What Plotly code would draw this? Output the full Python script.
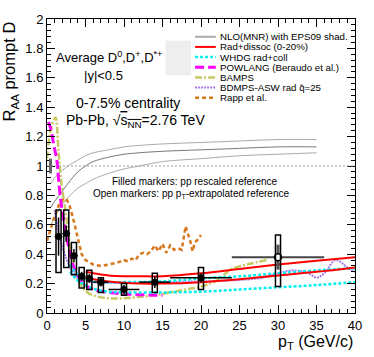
import plotly.graph_objects as go

# --- datos ---
pt = [1.5, 2.5, 3.5, 4.5, 5.5, 7, 10, 14, 20]
pt_half = [0.5, 0.5, 0.5, 0.5, 0.5, 1, 2, 2, 4]
raa = [0.52, 0.54, 0.39, 0.25, 0.235, 0.21, 0.16, 0.21, 0.24]
raa_stat = [0.13, 0.055, 0.045, 0.03, 0.03, 0.03, 0.03, 0.04, 0.03]
syst_lo = [0.275, 0.31, 0.26, 0.17, 0.16, 0.14, 0.12, 0.14, 0.16]
syst_hi = [0.70, 0.70, 0.48, 0.31, 0.29, 0.24, 0.20, 0.27, 0.31]

pt_open = [30]
pt_open_half = [6]
raa_open = [0.38]
raa_open_stat = [0.085]
syst_open_lo = [0.18]
syst_open_hi = [0.53]

nlo_x = [0.5, 1, 2, 3, 4, 5, 6, 8, 10, 12, 15, 20, 25, 30, 35]
nlo_top = [0.88, 0.92, 0.97, 1.01, 1.04, 1.07, 1.09, 1.11, 1.13, 1.14, 1.15, 1.16, 1.17, 1.18, 1.18]
nlo_mid = [0.72, 0.76, 0.83, 0.90, 0.96, 1.00, 1.03, 1.06, 1.08, 1.09, 1.10, 1.11, 1.12, 1.13, 1.13]
nlo_low = [0.60, 0.65, 0.74, 0.80, 0.85, 0.88, 0.91, 0.95, 0.98, 1.00, 1.03, 1.05, 1.07, 1.08, 1.09]

rad_x = [5, 6, 8, 10, 12, 15, 20, 25, 30, 35, 40]
rad_hi = [0.28, 0.27, 0.255, 0.25, 0.25, 0.25, 0.27, 0.30, 0.33, 0.355, 0.38]
rad_lo = [0.24, 0.23, 0.215, 0.205, 0.20, 0.20, 0.21, 0.23, 0.255, 0.28, 0.31]

whdg_x = [3, 4, 5, 6, 8, 10, 15, 20, 25, 30, 35, 40]
whdg_hi = [0.33, 0.26, 0.23, 0.215, 0.21, 0.21, 0.215, 0.235, 0.25, 0.27, 0.29, 0.305]
whdg_lo = [0.28, 0.22, 0.19, 0.165, 0.145, 0.14, 0.14, 0.145, 0.16, 0.175, 0.19, 0.21]

powlang_x = [0.2, 0.5, 0.9, 1.3, 1.5, 1.8, 2.2, 2.6, 3, 3.5, 4, 5, 6, 8, 10, 12, 15]
powlang_y = [1.30, 1.25, 1.14, 1.03, 0.91, 0.76, 0.62, 0.50, 0.40, 0.31, 0.25, 0.19, 0.16, 0.14, 0.13, 0.125, 0.12]

bamps_x = [0, 0.5, 1.1, 1.5, 1.9, 2.4, 3, 3.5, 4, 5, 6, 8, 10, 12, 14, 16, 18, 20, 22, 24, 26, 28.5]
bamps_y = [1.05, 1.25, 1.33, 1.09, 0.87, 0.70, 0.45, 0.32, 0.23, 0.15, 0.12, 0.10, 0.10, 0.11, 0.12, 0.14, 0.16, 0.18, 0.22, 0.30, 0.33, 0.36]

bdmps_x = [1, 1.5, 2, 2.5, 3, 3.5, 4, 5, 6, 8, 10, 15, 20, 25, 28, 30, 32, 34, 35, 36, 37.5, 39, 40]
bdmps_y = [0.70, 0.55, 0.45, 0.37, 0.31, 0.27, 0.24, 0.22, 0.21, 0.205, 0.205, 0.21, 0.215, 0.225, 0.24, 0.27, 0.29, 0.27, 0.24, 0.27, 0.36, 0.31, 0.28]

rapp_x = [0, 0.5, 1, 1.5, 2, 2.5, 3, 3.5, 4, 4.5, 5, 6, 7, 8, 9, 10, 10.5, 11, 11.5, 12,
          12.5, 13, 13.5, 14, 14.5, 15, 15.5, 16, 16.5, 17, 17.5, 18, 18.3, 18.6, 18.9, 19.2, 19.6, 20]
rapp_y = [0.49, 0.58, 0.66, 0.73, 0.77, 0.78, 0.72, 0.62, 0.50, 0.40, 0.36, 0.33, 0.32, 0.33, 0.34, 0.36, 0.35, 0.37, 0.36, 0.40,
          0.41, 0.40, 0.42, 0.46, 0.42, 0.47, 0.41, 0.46, 0.43, 0.44, 0.43, 0.59, 0.54, 0.49, 0.42, 0.48, 0.50, 0.53]

legend_labels = ["NLO(MNR) with EPS09 shad.", "Rad+dissoc (0-20%)", "WHDG rad+coll",
                 "POWLANG (Beraudo et al.)", "BAMPS", "BDMPS-ASW rad q\u0302=25", "Rapp et al."]

FONT = "Liberation Sans, Arial, sans-serif"
W, H = 374, 357
ML, MR, MT, MB = 47, 15, 15, 44


def px(xp):
    return (xp - ML) / (W - ML - MR)


def py(yp):
    return (H - MB - yp) / (H - MT - MB)


fig = go.Figure()

# --- modelos ---
estilos = {
    "nlo": dict(color="#aaaaaa", width=1),
    "rad": dict(color="#ff0000", width=2),
    "whdg": dict(color="#00f0f0", width=2.5, dash="3px,2px"),
    "powlang": dict(color="#ff00ff", width=3, dash="9px,4px"),
    "bamps": dict(color="#c8c864", width=2.5, dash="7px,2px,2px,2px"),
    "bdmps": dict(color="#a878f0", width=2, dash="2px,1px"),
    "rapp": dict(color="#d8781e", width=2.5, dash="4px,3px"),
}


def curva(x, y, st, shape="spline"):
    fig.add_trace(go.Scatter(x=x, y=y, mode="lines", line=dict(**st, shape=shape),
                             showlegend=False, hoverinfo="skip"))


curva(nlo_x, nlo_top, estilos["nlo"])
curva(nlo_x, nlo_mid, dict(color="#777777", width=1))
curva(nlo_x, nlo_low, estilos["nlo"])
curva(rapp_x, rapp_y, estilos["rapp"], shape="linear")
curva(bamps_x, bamps_y, estilos["bamps"])
curva(powlang_x, powlang_y, estilos["powlang"])
curva(bdmps_x, bdmps_y, estilos["bdmps"])
curva(whdg_x, whdg_hi, estilos["whdg"])
curva(whdg_x, whdg_lo, estilos["whdg"])
curva(rad_x, rad_hi, estilos["rad"])
curva(rad_x, rad_lo, estilos["rad"])

# --- linea de referencia en 1 ---
fig.add_shape(type="line", xref="x", yref="y", x0=0, x1=40, y0=1, y1=1,
              line=dict(color="#999999", width=1, dash="2px,2px"))

# --- incertidumbre de normalizacion ---
fig.add_shape(type="rect", xref="x", yref="y", x0=0.25, x1=0.65, y0=0.95, y1=1.05,
              fillcolor="#666666", line=dict(width=0))

# --- cajas sistematicas ---
BOX_HW = 0.33
for x, lo, hi in zip(pt + pt_open, syst_lo + syst_open_lo, syst_hi + syst_open_hi):
    fig.add_shape(type="rect", xref="x", yref="y", x0=x - BOX_HW, x1=x + BOX_HW, y0=lo, y1=hi,
                  line=dict(color="black", width=1.5), fillcolor="rgba(0,0,0,0)")

# --- puntos ---
fig.add_trace(go.Scatter(
    x=pt_open, y=raa_open, mode="markers",
    error_x=dict(type="data", array=pt_open_half, width=0, thickness=2, color="#444444"),
    error_y=dict(type="data", array=raa_open_stat, width=0, thickness=3, color="#555555"),
    marker=dict(symbol="circle", size=7, color="white", line=dict(color="black", width=1.5)),
    showlegend=False,
))
fig.add_trace(go.Scatter(
    x=pt, y=raa, mode="markers",
    error_x=dict(type="data", array=pt_half, width=0, thickness=1.5, color="black"),
    error_y=dict(type="data", array=raa_stat, width=0, thickness=1.5, color="black"),
    marker=dict(symbol="circle", size=7, color="black"),
    showlegend=False,
))

# --- recuadro gris ---
fig.add_shape(type="rect", xref="paper", yref="paper", x0=px(167), x1=px(193), y0=py(72), y1=py(37),
              fillcolor="#eeeeee", line=dict(width=0), layer="below")

# --- leyenda manual ---
ley_estilos = [dict(color="#aaaaaa", width=2), estilos["rad"], estilos["whdg"], estilos["powlang"],
               estilos["bamps"], estilos["bdmps"], estilos["rapp"]]
for i, (lab, st) in enumerate(zip(legend_labels, ley_estilos)):
    yrow = 33 + i * 10.3
    fig.add_shape(type="line", xref="paper", yref="paper", x0=px(197), x1=px(218),
                  y0=py(yrow), y1=py(yrow), line=st)
    fig.add_annotation(x=px(220), y=py(yrow), xref="paper", yref="paper", text=lab,
                       showarrow=False, xanchor="left", yanchor="middle",
                       font=dict(size=9.7, color="black", family=FONT))

# --- textos ---
textos = [
    ("Average D<sup>0</sup>,D<sup>+</sup>,D<sup>*+</sup>", 110, 54, 13),
    ("|y|<0.5", 104.5, 72, 13),
    ("0-7.5% centrality", 129, 100, 14),
    ("Pb-Pb, \u221a<span style='text-decoration:overline'>s<sub>NN</sub></span>=2.76 TeV", 137, 118, 14),
    ("Filled markers: pp rescaled reference", 197, 180, 10),
    ("Open markers: pp p<sub>T</sub>-extrapolated reference", 193, 192, 10),
]
for t, xp, yp, fs in textos:
    fig.add_annotation(x=px(xp), y=py(yp), xref="paper", yref="paper", text=t, showarrow=False,
                       xanchor="center", yanchor="middle", font=dict(size=fs, color="black", family=FONT))

fig.add_annotation(x=1, y=py(343), xref="paper", yref="paper", text="p<sub>T</sub> (GeV/c)",
                   showarrow=False, xanchor="right", yanchor="middle",
                   font=dict(size=16, color="black", family=FONT))
fig.add_annotation(x=px(10), y=1, xref="paper", yref="paper", text="R<sub>AA</sub> prompt D",
                   showarrow=False, textangle=-90, xanchor="center", yanchor="top",
                   font=dict(size=16.5, color="black", family=FONT))

ejes = dict(showgrid=False, zeroline=False, showline=True, linecolor="black", linewidth=1,
            mirror="allticks", ticks="inside", ticklen=8, tickcolor="black", tickwidth=1,
            tickfont=dict(size=13, color="black", family=FONT))
fig.update_xaxes(range=[0, 40], dtick=5, tick0=0,
                 minor=dict(dtick=1, ticks="inside", ticklen=4, tickcolor="black"), **ejes)
fig.update_yaxes(range=[0, 2], dtick=0.2, tick0=0,
                 minor=dict(dtick=0.04, ticks="inside", ticklen=4, tickcolor="black"), **ejes)

fig.update_layout(
    width=W, height=H,
    margin=dict(l=ML, r=MR, t=MT, b=MB),
    paper_bgcolor="white", plot_bgcolor="white",
    font=dict(family=FONT, color="black"),
    showlegend=False,
)

# quitar el margen por defecto del body para que la figura ocupe la ventana
fig.write_html("out.html", config={"displayModeBar": False},
               post_script="document.body.style.margin='0';")
